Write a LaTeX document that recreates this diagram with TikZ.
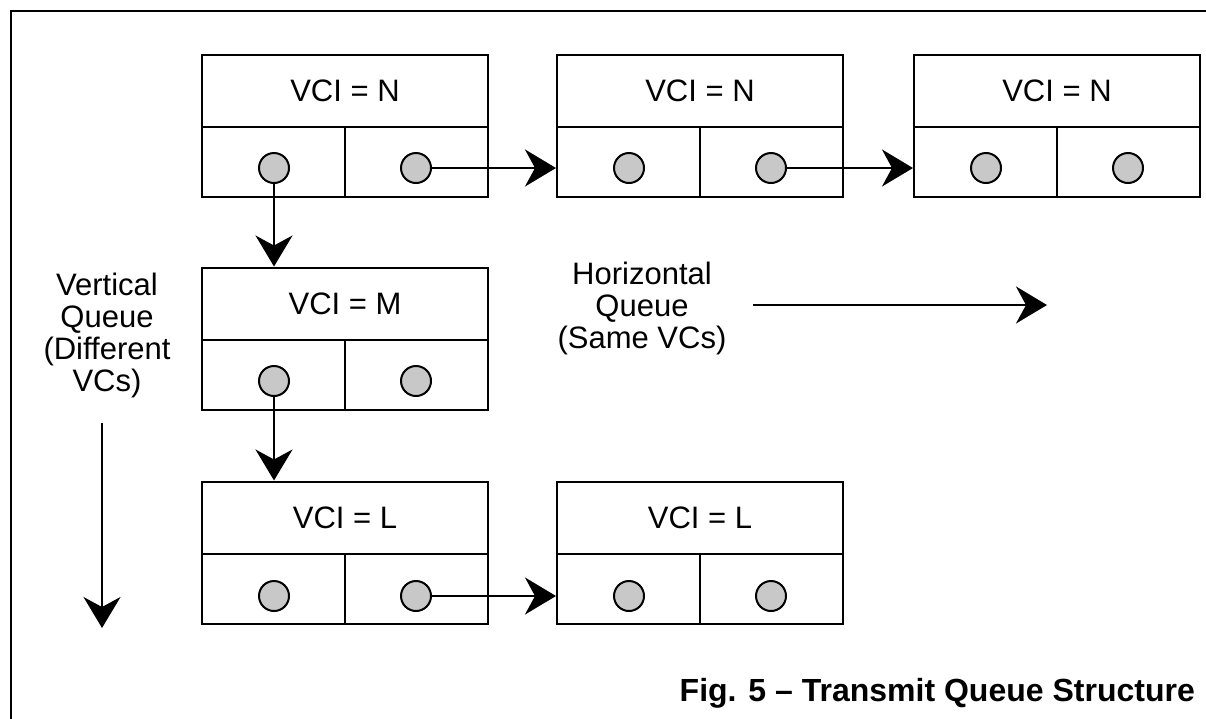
\documentclass[tikz,border=0pt]{standalone}
\usepackage{fontspec}
\setmainfont{Liberation Sans}
\usetikzlibrary{arrows.meta,positioning}
\definecolor{ptrgray}{RGB}{200,200,200}

\begin{document}
\begin{tikzpicture}[x=1pt,y=-1pt]
\tikzset{
  vcihead/.style={rectangle,draw=black,line width=2pt,minimum width=286pt,minimum height=72pt,inner sep=0pt,font=\fontsize{31}{32}\selectfont},
  vcicell/.style={rectangle,draw=black,line width=2pt,minimum width=143pt,minimum height=70pt,inner sep=0pt},
  ptr/.style={circle,draw=black,fill=ptrgray,line width=2pt,minimum size=30pt,inner sep=0pt},
  qlabel/.style={align=center,inner sep=0pt,font=\fontsize{31}{32}\selectfont},
  link/.style={draw=black,line width=2.2pt,-{Stealth[length=31pt,width=37pt,inset=10pt]}},
  frameline/.style={draw=black,line width=2.5pt}
}
\useasboundingbox (0,0) rectangle (1206,718);
\coordinate (fr_bl) at (11,730);
\coordinate (fr_tl) at (11,11);
\coordinate (fr_tr) at (1220,11);
\draw[frameline] (fr_bl) -- (fr_tl) -- (fr_tr);
% row 1
\node[vcihead] (n_N1) at (345,91) {VCI = N};
\node[vcicell] (n_N1_l) at (273.5,162) {};
\node[vcicell] (n_N1_r) at (416.5,162) {};
\node[ptr] (n_N1_lp) at (274,168) {};
\node[ptr] (n_N1_rp) at (416,168) {};
\node[vcihead] (n_N2) at (700,91) {VCI = N};
\node[vcicell] (n_N2_l) at (628.5,162) {};
\node[vcicell] (n_N2_r) at (771.5,162) {};
\node[ptr] (n_N2_lp) at (629,168) {};
\node[ptr] (n_N2_rp) at (771,168) {};
\node[vcihead] (n_N3) at (1057,91) {VCI = N};
\node[vcicell] (n_N3_l) at (985.5,162) {};
\node[vcicell] (n_N3_r) at (1128.5,162) {};
\node[ptr] (n_N3_lp) at (986,168) {};
\node[ptr] (n_N3_rp) at (1128,168) {};
% row 2
\node[vcihead] (n_M1) at (345,303.5) {VCI = M};
\node[vcicell] (n_M1_l) at (273.5,375) {};
\node[vcicell] (n_M1_r) at (416.5,375) {};
\node[ptr] (n_M1_lp) at (274,381) {};
\node[ptr] (n_M1_rp) at (416,381) {};
% row 3
\node[vcihead] (n_L1) at (345,517.5) {VCI = L};
\node[vcicell] (n_L1_l) at (273.5,589) {};
\node[vcicell] (n_L1_r) at (416.5,589) {};
\node[ptr] (n_L1_lp) at (274,596) {};
\node[ptr] (n_L1_rp) at (416,596) {};
\node[vcihead] (n_L2) at (700,517.5) {VCI = L};
\node[vcicell] (n_L2_l) at (628.5,589) {};
\node[vcicell] (n_L2_r) at (771.5,589) {};
\node[ptr] (n_L2_lp) at (629,596) {};
\node[ptr] (n_L2_rp) at (771,596) {};
% links
\draw[link] (n_N1_rp) -- (n_N1_rp -| n_N2_l.west);
\draw[link] (n_N2_rp) -- (n_N2_rp -| n_N3_l.west);
\draw[link] (n_N1_lp) -- (n_N1_lp |- n_M1.north);
\draw[link] (n_M1_lp) -- (n_M1_lp |- n_L1.north);
\draw[link] (n_L1_rp) -- (n_L1_rp -| n_L2_l.west);
% legend
\node[qlabel] (t_vert) at (107,335) {Vertical\\Queue\\(Different\\VCs)};
\coordinate (v_start) at (102,423);
\coordinate (v_end) at (102,628);
\draw[link] (v_start) -- (v_end);
\node[qlabel] (t_horiz) at (642,308) {Horizontal\\Queue\\(Same VCs)};
\coordinate (h_start) at (753,305);
\coordinate (h_end) at (1047,305);
\draw[link] (h_start) -- (h_end);
\node[anchor=base east,inner sep=0pt,font=\fontsize{32}{34}\selectfont\bfseries] (t_caption) at (1195,701) {Fig. 5 – Transmit Queue Structure};
\end{tikzpicture}
\end{document}
